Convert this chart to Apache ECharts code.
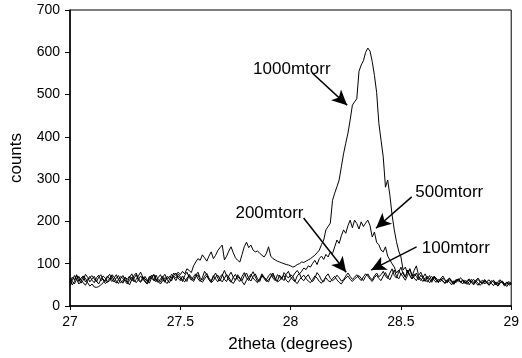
<!DOCTYPE html>
<html>
<head>
<meta charset="utf-8">
<script src="https://cdn.jsdelivr.net/npm/echarts@6/dist/echarts.min.js"></script>
<style>
html, body { margin: 0; padding: 0; background: #fff; }
#main { width: 522px; height: 358px; }
</style>
</head>
<body>
<div id="main"></div>
<script>
// 2theta from 27 to 29, step 0.01
var xStart = 27, xStep = 0.01;

var s1000 = [
55, 68, 62, 74, 58, 66, 71, 57, 63, 70,
61, 55, 67, 73, 60, 64, 58, 69, 75, 62,
57, 66, 72, 60, 54, 68, 63, 71, 59, 65,
74, 61, 56, 69, 64, 58, 70, 66, 60, 73,
62, 57, 68, 75, 63, 70, 66, 78, 72, 80,
74, 82, 76, 88, 84, 79, 95, 104, 112, 108,
121, 114, 106, 118, 128, 112, 120, 131, 138, 144,
109, 118, 130, 140, 126, 114, 108, 104, 122, 140,
151, 138, 144, 132, 128, 130, 125, 120, 116, 124,
140, 118, 112, 109, 106, 104, 102, 100, 98, 97,
95, 92, 94, 98, 100, 104, 103, 106, 109, 112,
116, 120, 126, 132, 145, 156, 180, 188, 196, 250,
267, 282, 298, 329, 360, 385, 409, 440, 475, 483,
490, 555, 570, 580, 600, 610, 603, 578, 545, 505,
432, 392, 352, 281, 298, 262, 215, 180, 152, 130,
116, 85, 92, 78, 88, 70, 84, 95, 72, 80,
68, 76, 64, 72, 60, 70, 66, 58, 64, 71,
62, 56, 66, 60, 54, 63, 58, 67, 61, 55,
60, 64, 57, 52, 61, 66, 58, 54, 62, 57,
53, 60, 56, 50, 58, 62, 55, 51, 57, 53,
56
];

var s500 = [
62, 50, 58, 72, 66, 54, 61, 75, 68, 57,
64, 70, 59, 52, 63, 71, 66, 56, 60, 74,
69, 58, 53, 65, 72, 61, 56, 68, 76, 63,
55, 62, 71, 64, 57, 52, 66, 73, 61, 58,
67, 74, 63, 56, 70, 65, 59, 72, 78, 66,
60, 71, 64, 58, 75, 68, 62, 73, 80, 67,
61, 70, 77, 66, 59, 72, 64, 57, 69, 75,
63, 58, 71, 80, 68, 61, 74, 66, 60, 72,
78, 65, 59, 70, 76, 64, 58, 73, 68, 62,
71, 77, 66, 60, 74, 69, 63, 79, 72, 66,
74, 70, 78, 84, 76, 82, 90, 86, 95, 92,
101, 108, 98, 112, 118, 110, 122, 116, 128, 124,
140, 156, 148, 166, 180, 172, 190, 203, 185, 203,
195, 182, 199, 188, 196, 203, 190, 163, 175, 150,
145, 132, 128, 140, 118, 109, 100, 92, 78, 85,
74, 80, 68, 82, 72, 64, 76, 70, 62, 73,
66, 58, 70, 63, 56, 68, 61, 55, 64, 59,
53, 62, 57, 50, 60, 55, 64, 58, 52, 61,
56, 50, 59, 63, 54, 49, 57, 61, 52, 58,
62, 54, 48, 57, 51, 60, 55, 47, 53, 58,
52
];

var s200 = [
48, 60, 72, 64, 52, 58, 70, 66, 55, 47,
52, 45, 44, 46, 50, 55, 62, 71, 64, 58,
66, 74, 62, 55, 60, 68, 57, 50, 63, 72,
78, 65, 58, 62, 70, 61, 54, 67, 73, 60,
56, 64, 70, 59, 53, 62, 75, 68, 60, 71,
66, 58, 72, 80, 68, 61, 70, 76, 64, 58,
67, 82, 74, 63, 57, 69, 78, 65, 59, 72,
84, 71, 62, 56, 68, 75, 63, 58, 70, 79,
66, 60, 72, 81, 69, 58, 64, 76, 68, 61,
57, 70, 78, 65, 59, 73, 66, 60, 75, 82,
69, 62, 58, 71, 77, 64, 60, 68, 74, 63,
58, 66, 79, 72, 61, 57, 70, 76, 65, 60,
64, 73, 67, 59, 62, 71, 78, 70, 63, 68,
74, 66, 60, 69, 76, 71, 63, 58, 67, 73,
65, 60, 71, 79, 68, 62, 74, 85, 70, 64,
76, 69, 61, 72, 88, 74, 66, 60, 70, 64,
58, 67, 62, 55, 63, 70, 61, 57, 64, 59,
54, 61, 66, 58, 52, 60, 64, 56, 62, 57,
51, 58, 63, 55, 60, 53, 49, 57, 62, 54,
50, 56, 61, 53, 48, 55, 59, 52, 46, 54,
50
];

var s100 = [
66, 58, 52, 63, 70, 61, 55, 49, 60, 67,
72, 64, 57, 68, 74, 62, 53, 58, 66, 71,
60, 54, 63, 70, 65, 58, 52, 61, 68, 57,
63, 71, 80, 68, 59, 53, 62, 69, 75, 64,
58, 52, 60, 67, 63, 55, 64, 71, 66, 75,
70, 62, 57, 66, 72, 64, 58, 68, 74, 61,
56, 64, 71, 62, 55, 60, 69, 73, 63, 57,
66, 74, 68, 59, 53, 62, 70, 64, 58, 50,
61, 68, 75, 66, 60, 55, 63, 71, 65, 58,
62, 69, 74, 63, 57, 60, 68, 72, 61, 56,
64, 70, 58, 53, 62, 68, 73, 65, 59, 55,
63, 71, 66, 58, 54, 62, 67, 60, 57, 65,
70, 62, 56, 52, 60, 66, 71, 63, 58, 64,
68, 72, 65, 60, 70, 76, 67, 62, 71, 78,
69, 74, 82, 71, 65, 78, 88, 72, 66, 80,
92, 76, 68, 85, 73, 64, 70, 78, 66, 60,
68, 62, 57, 65, 70, 61, 56, 63, 58, 66,
60, 55, 62, 57, 51, 59, 64, 56, 60, 53,
57, 62, 55, 50, 58, 63, 56, 52, 59, 54,
49, 56, 60, 52, 47, 55, 58, 51, 55, 49,
53
];

var xTicks = [27, 27.5, 28, 28.5, 29];
var yTicks = [0, 100, 200, 300, 400, 500, 600, 700];

// annotation: label text, label anchor [x, y], arrow start, arrow tip (data units)
var notes = [
  { name: '1000mtorr', text: [27.83, 560], from: [28.098, 551], to: [28.256, 475] },
  { name: '500mtorr',  text: [28.565, 270], from: [28.549, 258], to: [28.387, 184] },
  { name: '200mtorr',  text: [27.75, 220], from: [28.059, 208], to: [28.252, 80] },
  { name: '100mtorr',  text: [28.595, 137], from: [28.571, 140], to: [28.365, 85] }
];

function pairs(arr) {
  var out = [];
  for (var i = 0; i < arr.length; i++) {
    out.push([+(xStart + i * xStep).toFixed(2), arr[i]]);
  }
  return out;
}

var font = 'Liberation Sans, Arial, sans-serif';
var seriesData = [s1000, s500, s200, s100];

var series = [];
for (var k = 0; k < seriesData.length; k++) {
  var n = notes[k];
  series.push({
    name: n.name,
    type: 'line',
    data: pairs(seriesData[k]),
    showSymbol: false,
    symbol: 'none',
    lineStyle: { color: '#000', width: 1 },
    z: 3,
    markLine: {
      silent: true,
      symbol: ['none', 'arrow'],
      symbolSize: [11, 15],
      lineStyle: { color: '#000', width: 1.5, type: 'solid' },
      label: { show: false },
      data: [[{ coord: n.from }, { coord: n.to }]]
    },
    markPoint: {
      silent: true,
      symbol: 'circle',
      symbolSize: 0,
      label: {
        show: true,
        position: 'right',
        distance: 0,
        color: '#000',
        fontSize: 17,
        fontFamily: font,
        formatter: n.name
      },
      data: [{ coord: n.text }]
    }
  });
}

var chart = echarts.init(document.getElementById('main'));
var option = {
  animation: false,
  backgroundColor: '#fff',
  grid: {
    left: 61, right: 4, top: 10, bottom: 52,
    show: true, borderColor: '#000', borderWidth: 1
  },
  xAxis: {
    type: 'value',
    min: 27, max: 29, interval: 0.5,
    name: '2theta (degrees)',
    nameLocation: 'middle',
    nameGap: 30,
    nameTextStyle: { color: '#000', fontSize: 17, fontFamily: font },
    axisLine: { show: true, lineStyle: { color: '#000', width: 1.5 } },
    axisTick: { show: true, inside: false, length: 4, lineStyle: { color: '#000' } },
    axisLabel: {
      color: '#000', fontSize: 14, fontFamily: font, margin: 9,
      formatter: function (v) { return xTicks.indexOf(v) >= 0 ? String(v) : ''; }
    },
    splitLine: { show: false }
  },
  yAxis: {
    type: 'value',
    min: 0, max: 700, interval: 100,
    name: 'counts',
    nameLocation: 'middle',
    nameGap: 45,
    nameTextStyle: { color: '#000', fontSize: 17, fontFamily: font },
    axisLine: { show: true, lineStyle: { color: '#000', width: 1.5 } },
    axisTick: { show: true, inside: false, length: 5, lineStyle: { color: '#000' } },
    axisLabel: {
      color: '#000', fontSize: 14, fontFamily: font, margin: 10,
      formatter: function (v) { return yTicks.indexOf(v) >= 0 ? String(v) : ''; }
    },
    splitLine: { show: false }
  },
  series: series
};
chart.setOption(option);
</script>
</body>
</html>
